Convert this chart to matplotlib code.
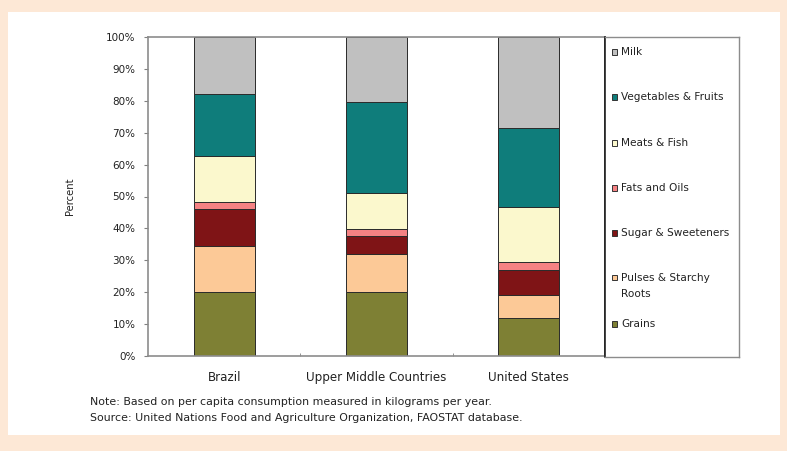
import matplotlib.pyplot as plt
import matplotlib.patches as mpatches

plt.rcParams['font.family'] = ['DejaVu Sans']

# Categories and shares (percent of per capita consumption, kg/year)
countries = ["Brazil", "Upper Middle Countries", "United States"]
grains = [20.0, 20.0, 11.8]
pulses = [14.5, 12.0, 7.3]
sugar = [11.7, 5.7, 8.0]
fats = [2.2, 2.2, 2.4]
meats = [14.4, 11.2, 17.2]
vegetables = [19.4, 28.4, 24.8]
milk = [17.8, 20.5, 28.5]

series_names = ["Grains", "Pulses & Starchy\nRoots", "Sugar & Sweeteners",
                "Fats and Oils", "Meats & Fish", "Vegetables & Fruits", "Milk"]
series_values = [grains, pulses, sugar, fats, meats, vegetables, milk]
series_colors = ["#7e8034", "#fcc997", "#7f1416", "#f58283",
                 "#fbf8cd", "#0f7d7b", "#c0c0c0"]

fig = plt.figure(figsize=(7.87, 4.51), dpi=100)
fig.patch.set_facecolor("#fde8d6")
# white panel
fig.patches.append(mpatches.Rectangle((8 / 787, 1 - 435 / 451), 772 / 787, 423 / 451,
                                      transform=fig.transFigure, facecolor="white",
                                      edgecolor="none", zorder=-10))

ax = fig.add_axes([148 / 787, 1 - 356 / 451, 457 / 787, 319 / 451])
ax.set_facecolor("white")

x = range(len(countries))
bottom = [0.0] * len(countries)
for name, vals, col in zip(series_names, series_values, series_colors):
    ax.bar(x, vals, width=0.4, bottom=bottom, color=col,
           edgecolor="#2a2a2a", linewidth=0.7, label=name)
    bottom = [bt + v for bt, v in zip(bottom, vals)]

ax.set_xlim(-0.5, 2.5)
ax.set_ylim(0, 100)
ax.set_yticks(range(0, 101, 10))
ax.set_yticklabels([f"{v}%" for v in range(0, 101, 10)], fontsize=7.5, color="#222222")
ax.set_xticks(list(x))
ax.set_xticklabels(countries, fontsize=8.6, color="#222222")
ax.tick_params(axis="x", length=0, pad=11)
ax.set_xticks([0.5, 1.5], minor=True)
ax.tick_params(axis="x", which="minor", direction="in", length=2, color="#808080")
ax.tick_params(axis="y", direction="out", length=3, color="#808080", pad=6)
ax.set_ylabel("Percent", fontsize=7.2, color="#222222", labelpad=22)

for side in ["left", "bottom", "top"]:
    ax.spines[side].set_color("#8c8c8c")
    ax.spines[side].set_linewidth(1.2)
ax.spines["right"].set_color("#222222")
ax.spines["right"].set_linewidth(1.2)

# legend box, entries top to bottom as Excel draws them
lax = fig.add_axes([605 / 787, 1 - 357 / 451, 134 / 787, 320 / 451])
lax.set_xlim(0, 134)
lax.set_ylim(320, 0)
lax.set_xticks([])
lax.set_yticks([])
for side in lax.spines:
    lax.spines[side].set_color("#8c8c8c")
    lax.spines[side].set_linewidth(1.0)
lax.spines["left"].set_color("#222222")
lax.spines["left"].set_linewidth(1.2)

legend_rows = [15, 60, 106, 151, 196, 249, 287]
for yrow, name, col in zip(legend_rows, series_names[::-1], series_colors[::-1]):
    nlines = name.count("\n") + 1
    ysq = yrow - (nlines - 1) * 8.5  # square sits beside the first line
    lax.add_patch(mpatches.Rectangle((6.5, ysq - 2.75), 5.5, 5.5, facecolor=col,
                                     edgecolor="#333333", linewidth=0.7))
    lax.text(16, yrow, name, fontsize=7.6, color="#222222", va="center",
             ha="left", linespacing=1.7)

fig.text(90 / 787, 1 - 402 / 451, "Note: Based on per capita consumption measured in kilograms per year.",
         fontsize=7.9, color="#222222", va="center")
fig.text(90 / 787, 1 - 418 / 451, "Source: United Nations Food and Agriculture Organization, FAOSTAT database.",
         fontsize=7.9, color="#222222", va="center")

fig.savefig("out.png", dpi=100, facecolor=fig.get_facecolor())
